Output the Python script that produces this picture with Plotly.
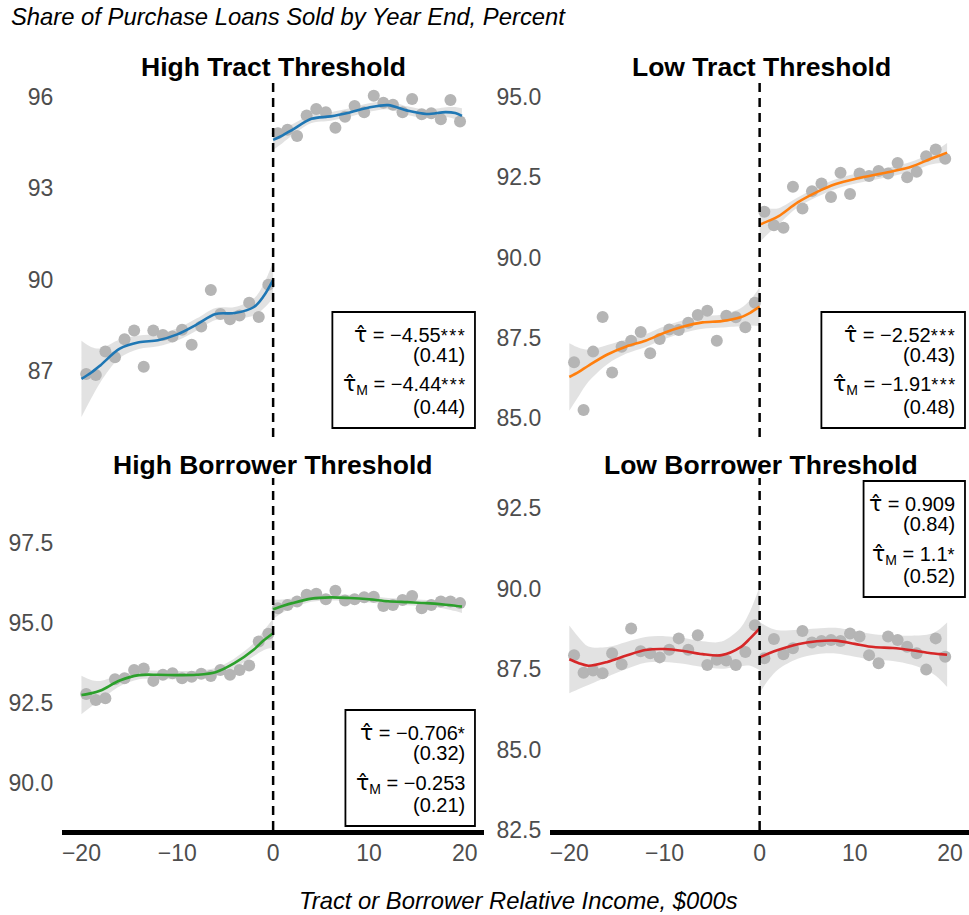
import plotly.graph_objects as go

# ---------------------------------------------------------------------------
# Data
# ---------------------------------------------------------------------------
bins_below = [-19.5, -18.5, -17.5, -16.5, -15.5, -14.5, -13.5, -12.5, -11.5, -10.5,
              -9.5, -8.5, -7.5, -6.5, -5.5, -4.5, -3.5, -2.5, -1.5, -0.5]
bins_above = [0.5, 1.5, 2.5, 3.5, 4.5, 5.5, 6.5, 7.5, 8.5, 9.5,
              10.5, 11.5, 12.5, 13.5, 14.5, 15.5, 16.5, 17.5, 18.5, 19.5]

panel_titles = ["High Tract Threshold", "Low Tract Threshold",
                "High Borrower Threshold", "Low Borrower Threshold"]

# binned shares (percent)
ht_below = [86.90, 86.87, 87.64, 87.45, 88.04, 88.33, 87.14, 88.33, 88.18, 88.13,
            88.35, 87.86, 88.46, 89.66, 88.87, 88.70, 88.82, 89.24, 88.77, 89.83]
ht_above = [94.81, 94.92, 94.72, 95.39, 95.60, 95.50, 94.99, 95.35, 95.70, 95.50,
            96.04, 95.81, 95.74, 95.50, 95.93, 95.43, 95.46, 95.27, 95.90, 95.19]
lt_below = [86.74, 85.25, 87.07, 88.15, 86.42, 87.22, 87.41, 87.68, 87.02, 87.46,
            87.76, 87.74, 87.97, 88.21, 88.34, 87.41, 88.19, 88.14, 87.83, 88.59]
lt_above = [91.43, 91.01, 90.93, 92.21, 91.53, 92.07, 92.31, 91.89, 92.64, 91.98,
            92.62, 92.54, 92.70, 92.62, 92.95, 92.50, 92.67, 93.16, 93.37, 93.08]
hb_below = [92.78, 92.59, 92.65, 93.24, 93.27, 93.53, 93.58, 93.19, 93.38, 93.43,
            93.27, 93.32, 93.41, 93.34, 93.53, 93.38, 93.53, 93.67, 94.42, 94.66]
hb_above = [95.46, 95.56, 95.67, 95.88, 95.91, 95.74, 96.01, 95.70, 95.74, 95.80,
            95.82, 95.53, 95.56, 95.72, 95.84, 95.46, 95.56, 95.67, 95.67, 95.62]
lb_below = [87.93, 87.38, 87.45, 87.37, 87.99, 87.65, 88.76, 88.05, 87.99, 87.86,
            88.10, 88.45, 88.10, 88.55, 87.62, 87.79, 87.76, 87.62, 88.03, 88.86]
lb_above = [87.83, 88.43, 87.96, 88.14, 88.68, 88.32, 88.37, 88.40, 88.37, 88.60,
            88.51, 87.93, 87.68, 88.51, 88.40, 88.19, 87.99, 87.48, 88.45, 87.88]

# smoothed fits and confidence half-widths on each side of the cutoff
fit_x_below = [-20, -19, -18, -16, -14, -12, -10, -8, -6, -4, -2, -1, 0]
fit_x_above = [0, 1, 2, 4, 6, 8, 10, 12, 14, 16, 18, 19, 19.7]

ht_fit_below = [86.74, 86.94, 87.19, 87.73, 87.94, 88.01, 88.20, 88.52, 88.87, 88.90, 89.10, 89.45, 89.99]
ht_se_below = [1.25, 0.85, 0.55, 0.30, 0.22, 0.20, 0.20, 0.20, 0.20, 0.20, 0.28, 0.40, 0.60]
ht_fit_above = [94.59, 94.74, 94.92, 95.28, 95.36, 95.49, 95.65, 95.73, 95.55, 95.44, 95.50, 95.47, 95.38]
ht_se_above = [0.33, 0.25, 0.18, 0.14, 0.14, 0.14, 0.14, 0.14, 0.14, 0.14, 0.16, 0.20, 0.25]

lt_fit_below = [86.28, 86.44, 86.63, 86.98, 87.23, 87.41, 87.66, 87.85, 87.98, 88.02, 88.14, 88.28, 88.47]
lt_se_below = [1.05, 0.75, 0.50, 0.30, 0.22, 0.20, 0.20, 0.20, 0.20, 0.20, 0.28, 0.40, 0.60]
lt_fit_above = [91.03, 91.15, 91.29, 91.72, 92.04, 92.29, 92.45, 92.57, 92.69, 92.84, 93.08, 93.19, 93.27]
lt_se_above = [0.55, 0.38, 0.25, 0.15, 0.15, 0.15, 0.15, 0.15, 0.15, 0.15, 0.18, 0.24, 0.30]

hb_fit_below = [92.75, 92.80, 92.89, 93.20, 93.37, 93.38, 93.37, 93.38, 93.46, 93.75, 94.17, 94.45, 94.68]
hb_se_below = [0.60, 0.42, 0.30, 0.18, 0.13, 0.13, 0.13, 0.13, 0.13, 0.15, 0.20, 0.30, 0.45]
hb_fit_above = [95.43, 95.53, 95.62, 95.76, 95.80, 95.78, 95.74, 95.68, 95.65, 95.62, 95.57, 95.54, 95.51]
hb_se_above = [0.30, 0.20, 0.15, 0.10, 0.10, 0.10, 0.10, 0.10, 0.10, 0.10, 0.13, 0.17, 0.20]

lb_fit_below = [87.80, 87.68, 87.60, 87.72, 87.92, 88.09, 88.12, 88.06, 87.96, 87.93, 88.18, 88.45, 88.76]
lb_se_below = [1.05, 0.80, 0.60, 0.46, 0.42, 0.40, 0.40, 0.40, 0.40, 0.42, 0.60, 0.85, 1.30]
lb_fit_above = [87.86, 87.99, 88.10, 88.27, 88.36, 88.38, 88.28, 88.18, 88.15, 88.08, 87.99, 87.96, 87.94]
lb_se_above = [1.10, 0.80, 0.60, 0.45, 0.40, 0.40, 0.40, 0.40, 0.40, 0.45, 0.60, 0.80, 1.00]

# discontinuity estimates (tau-hat) and their standard errors
tau_hat = [-4.55, -2.52, -0.706, 0.909]
tau_se = [0.41, 0.43, 0.32, 0.84]
tau_stars = ["***", "***", "*", ""]
tau_m_hat = [-4.44, -1.91, -0.253, 1.1]
tau_m_se = [0.44, 0.48, 0.21, 0.52]
tau_m_stars = ["***", "***", "", "*"]

# axis ticks
x_ticks = [-20, -10, 0, 10, 20]
ht_ticks = [87, 90, 93, 96]
lt_ticks = [85.0, 87.5, 90.0, 92.5, 95.0]
hb_ticks = [90.0, 92.5, 95.0, 97.5]
lb_ticks = [82.5, 85.0, 87.5, 90.0, 92.5]

line_colors = ["#1f77b4", "#ff7f0e", "#2ca02c", "#d62728"]

# ---------------------------------------------------------------------------
# Layout geometry, in pixels of the drawing area
# ---------------------------------------------------------------------------
W, H = 969, 915
GW, GH = 965, 902          # extent used to convert pixel positions to paper units
FONT = "Liberation Sans, Arial, sans-serif"
TICK_GREY = "#4d4d4d"
POINT_GREY = "#b5b5b5"
BAND_FILL = "rgba(150,150,150,0.28)"


def fx(px):
    return min(px / GW, 1.0)


def fy(py):
    return max(1 - py / GH, 0.0)


col_px = [(62, 482), (548, 968)]
row_px = [(82, 437), (478, 830)]
title_py = [67, 465]
y_ranges = [(84.83, 96.49), (84.41, 95.47), (88.53, 99.53), (82.50, 93.43)]

panels = [
    dict(below=ht_below, above=ht_above, fb=ht_fit_below, sb=ht_se_below,
         fa=ht_fit_above, sa=ht_se_above, ticks=ht_ticks, fmt="{:.0f}"),
    dict(below=lt_below, above=lt_above, fb=lt_fit_below, sb=lt_se_below,
         fa=lt_fit_above, sa=lt_se_above, ticks=lt_ticks, fmt="{:.1f}"),
    dict(below=hb_below, above=hb_above, fb=hb_fit_below, sb=hb_se_below,
         fa=hb_fit_above, sa=hb_se_above, ticks=hb_ticks, fmt="{:.1f}"),
    dict(below=lb_below, above=lb_above, fb=lb_fit_below, sb=lb_se_below,
         fa=lb_fit_above, sa=lb_se_above, ticks=lb_ticks, fmt="{:.1f}"),
]

fig = go.Figure()
layout = {}
shapes = []
annotations = []

for i, p in enumerate(panels):
    r, c = divmod(i, 2)
    suffix = "" if i == 0 else str(i + 1)
    xa, ya = "x" + suffix, "y" + suffix

    # confidence ribbons
    for xs, fit, se in [(fit_x_below, p["fb"], p["sb"]), (fit_x_above, p["fa"], p["sa"])]:
        upper = [f + s for f, s in zip(fit, se)]
        lower = [f - s for f, s in zip(fit, se)]
        fig.add_trace(go.Scatter(x=xs, y=upper, mode="lines",
                                 line=dict(width=0, shape="spline", smoothing=0.9),
                                 hoverinfo="skip", showlegend=False, xaxis=xa, yaxis=ya))
        fig.add_trace(go.Scatter(x=xs, y=lower, mode="lines",
                                 line=dict(width=0, shape="spline", smoothing=0.9),
                                 fill="tonexty", fillcolor=BAND_FILL,
                                 hoverinfo="skip", showlegend=False, xaxis=xa, yaxis=ya))

    # binned means
    fig.add_trace(go.Scatter(x=bins_below + bins_above, y=p["below"] + p["above"],
                             mode="markers", marker=dict(size=12, color=POINT_GREY),
                             showlegend=False, xaxis=xa, yaxis=ya))

    # smoothed fits
    for xs, fit in [(fit_x_below, p["fb"]), (fit_x_above, p["fa"])]:
        fig.add_trace(go.Scatter(x=xs, y=fit, mode="lines",
                                 line=dict(color=line_colors[i], width=2.6,
                                           shape="spline", smoothing=0.9),
                                 showlegend=False, xaxis=xa, yaxis=ya))

    c0, c1 = col_px[c]
    r0, r1 = row_px[r]
    bottom_row = r == 1
    layout["xaxis" + suffix] = dict(
        domain=[fx(c0), fx(c1)], range=[-22, 22], anchor=ya,
        showgrid=False, zeroline=False, ticks="",
        showline=bottom_row, linewidth=5, linecolor="black",
        showticklabels=bottom_row, tickvals=x_ticks, ticklabelstandoff=-2,
        tickfont=dict(family=FONT, size=23, color=TICK_GREY),
    )
    layout["yaxis" + suffix] = dict(
        domain=[fy(r1), fy(r0)], range=list(y_ranges[i]), anchor=xa,
        showgrid=False, zeroline=False, showline=False, ticks="",
        tickvals=p["ticks"], ticktext=[p["fmt"].format(v) for v in p["ticks"]],
        ticklabelstandoff=8,
        tickfont=dict(family=FONT, size=23, color=TICK_GREY),
    )

    # cutoff line
    shapes.append(dict(type="line", xref=xa, yref=ya + " domain", x0=0, x1=0, y0=0, y1=1,
                       line=dict(color="black", width=2.5, dash="9px,6px"), layer="above"))

    # panel title
    annotations.append(dict(text="<b>" + panel_titles[i] + "</b>", xref="paper", yref="paper",
                            x=fx((c0 + c1) / 2), y=fy(title_py[r]), xanchor="center", yanchor="middle",
                            showarrow=False, font=dict(family=FONT, size=26.5, color="black")))

# estimate boxes: (left, right, top) in pixels
boxes = [(331, 473, 312), (818, 961, 312), (344, 473, 710), (860, 961, 481)]
BOX_H = 116
line_offsets = [22, 43, 73, 95]

TAU = "<span style=\"font-family:'DejaVu Sans';font-size:22px\">\u03c4\u0302</span>"
EQ = " = "


def fmt_est(v):
    s = "{:g}".format(abs(v))
    return ("\u2212" if v < 0 else "") + s


def stars(s):
    return ("<span style=\"font-size:18px\">" + "\u200a".join(s) + "</span>") if s else ""


for i, (bl, br, bt) in enumerate(boxes):
    shapes.append(dict(type="rect", xref="paper", yref="paper",
                       x0=fx(bl), x1=fx(br), y0=fy(bt + BOX_H), y1=fy(bt),
                       line=dict(color="black", width=1.8), fillcolor="white", layer="above"))
    lines = [
        TAU + EQ + fmt_est(tau_hat[i]) + stars(tau_stars[i]),
        "({:.2f})".format(tau_se[i]),
        TAU + "<sub>M</sub>" + EQ + fmt_est(tau_m_hat[i]) + stars(tau_m_stars[i]),
        "({:.2f})".format(tau_m_se[i]),
    ]
    for txt, off in zip(lines, line_offsets):
        annotations.append(dict(text=txt, xref="paper", yref="paper",
                                x=fx(br - 8), y=fy(bt + off), xanchor="right", yanchor="middle",
                                showarrow=False, align="right",
                                font=dict(family=FONT, size=20, color="black")))

# overall titles
annotations.append(dict(text="<i>Share of Purchase Loans Sold by Year End, Percent</i>",
                        xref="paper", yref="paper", x=fx(9), y=fy(17),
                        xanchor="left", yanchor="middle", showarrow=False,
                        font=dict(family=FONT, size=23.8, color="black")))
annotations.append(dict(text="<i>Tract or Borrower Relative Income, $000s</i>",
                        xref="paper", yref="paper", x=fx(516), y=fy(900),
                        xanchor="center", yanchor="middle", showarrow=False,
                        font=dict(family=FONT, size=23.8, color="black")))

fig.update_layout(
    width=W, height=H,
    margin=dict(l=0, r=0, t=0, b=0),
    paper_bgcolor="white", plot_bgcolor="white",
    showlegend=False,
    shapes=shapes, annotations=annotations,
    font=dict(family=FONT),
    **layout,
)

fig.write_html("out.html")
